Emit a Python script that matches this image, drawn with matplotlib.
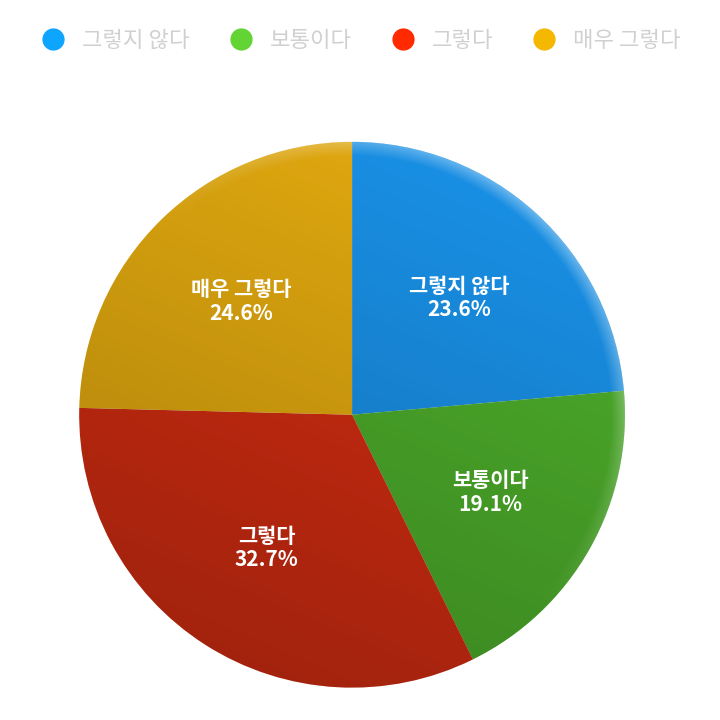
import matplotlib.pyplot as plt
import numpy as np
from matplotlib.lines import Line2D
from matplotlib.patches import Circle

plt.rcParams['font.family'] = ['Noto Sans CJK KR', 'DejaVu Sans']

labels = ['그렇지 않다', '보통이다', '그렇다', '매우 그렇다']
values = [23.6, 19.1, 32.7, 24.6]
slice_colors = ['#1a94ec', '#4fb22c', '#d82e12', '#e8ae10']
legend_colors = ['#0ea5ff', '#62d433', '#ff2a00', '#f5b800']


def shade(ax):
    # soft 3d look: darker toward the bottom, light rim at the upper right
    n = 400
    xs = np.linspace(-1, 1, n)
    X, Y = np.meshgrid(xs, xs)
    R = np.sqrt(X ** 2 + Y ** 2)
    dark = np.clip(0.5 - 0.5 * (0.7 * Y + 0.3 * X), 0, 1) * 0.28
    img = np.zeros((n, n, 4))
    img[..., 3] = dark
    im = ax.imshow(img, extent=(-1, 1, -1, 1), origin='lower', zorder=3, interpolation='bilinear')
    im.set_clip_path(Circle((0, 0), 1.0, transform=ax.transData))
    rim = np.clip((R - 0.95) / 0.05, 0, 1) * np.clip(0.6 * Y + 0.6 * X, 0, 1) * 0.4
    img2 = np.ones((n, n, 4))
    img2[..., 3] = rim
    im2 = ax.imshow(img2, extent=(-1, 1, -1, 1), origin='lower', zorder=3, interpolation='bilinear')
    im2.set_clip_path(Circle((0, 0), 1.0, transform=ax.transData))


def main():
    fig = plt.figure(figsize=(7.2, 7.2), dpi=100)
    ax = fig.add_axes([0.110, 0.045, 0.758, 0.758])
    wedges, texts = ax.pie(values, colors=slice_colors, startangle=90, counterclock=False,
                           radius=1.0, labels=[f'{l}\n{v}%' for l, v in zip(labels, values)],
                           labeldistance=0.58, wedgeprops=dict(linewidth=0))
    for t in texts:
        t.set_ha('center')
        t.set_va('center')
        t.set_color('white')
        t.set_fontsize(15)
        t.set_fontweight('bold')
        t.set_linespacing(1.15)
        t.set_zorder(5)
    shade(ax)
    ax.set_xlim(-1, 1)
    ax.set_ylim(-1, 1)
    ax.set_aspect('equal')
    ax.axis('off')

    handles = [Line2D([], [], marker='o', linestyle='', markersize=15, color=c) for c in legend_colors]
    leg = fig.legend(handles, labels, loc='center', bbox_to_anchor=(0.494, 0.944), ncol=4,
                     frameon=False, fontsize=16, handletextpad=0.3, columnspacing=1.3)
    for t in leg.get_texts():
        t.set_color('#d0d0d0')

    plt.savefig('out.png', dpi=100)
    plt.close()


if __name__ == "__main__":
    main()
